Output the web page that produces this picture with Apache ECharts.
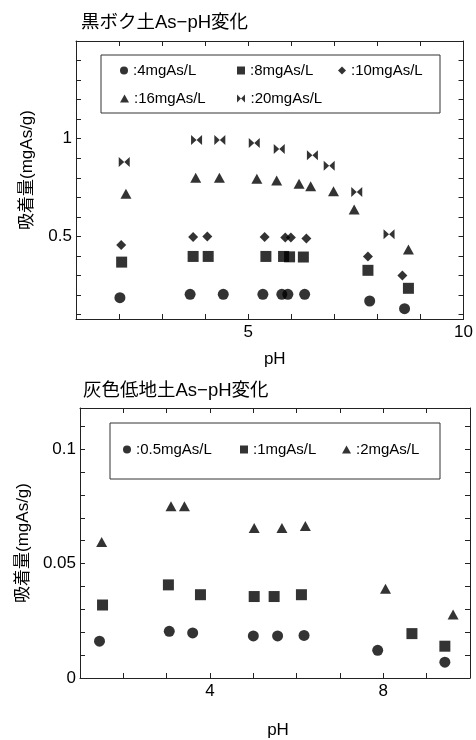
<!DOCTYPE html>
<html>
<head>
<meta charset="utf-8">
<script src="https://cdn.jsdelivr.net/npm/echarts@6/dist/echarts.min.js"></script>
<style>
  html, body { margin: 0; padding: 0; background: #fff; }
  #ct { width: 476px; height: 740px; }
</style>
</head>
<body>
<div id="ct"></div>
<script>
// 黒ボク土 (top chart)
const phA_4 = [2.02, 3.65, 4.42, 5.34, 5.78, 5.92, 6.31, 7.82, 8.63];
const valA_4 = [0.187, 0.204, 0.204, 0.204, 0.204, 0.204, 0.204, 0.170, 0.131];
const phA_8 = [2.06, 3.72, 4.07, 5.41, 5.82, 5.96, 6.28, 7.78, 8.72];
const valA_8 = [0.369, 0.398, 0.398, 0.398, 0.398, 0.396, 0.395, 0.327, 0.235];
const phA_10 = [2.05, 3.72, 4.05, 5.38, 5.86, 5.99, 6.35, 7.78, 8.58];
const valA_10 = [0.457, 0.498, 0.500, 0.497, 0.495, 0.495, 0.490, 0.398, 0.301];
const phA_16 = [2.16, 3.78, 4.33, 5.20, 5.66, 6.18, 6.45, 6.98, 7.46, 8.72];
const valA_16 = [0.719, 0.801, 0.801, 0.796, 0.786, 0.770, 0.757, 0.731, 0.638, 0.434];
const phA_20 = [2.12, 3.80, 4.34, 5.14, 5.72, 6.49, 6.88, 7.52, 8.27];
const valA_20 = [0.881, 0.993, 0.993, 0.978, 0.947, 0.915, 0.862, 0.728, 0.512];
const namesA = [':4mgAs/L', ':8mgAs/L', ':10mgAs/L', ':16mgAs/L', ':20mgAs/L'];

// 灰色低地土 (bottom chart)
const phB_05 = [1.45, 3.06, 3.60, 5.00, 5.56, 6.17, 7.87, 9.42];
const valB_05 = [0.0161, 0.0204, 0.0197, 0.0184, 0.0184, 0.0186, 0.0121, 0.0069];
const phB_1 = [1.52, 3.04, 3.78, 5.02, 5.48, 6.11, 8.66, 9.42];
const valB_1 = [0.0319, 0.0407, 0.0364, 0.0356, 0.0356, 0.0364, 0.0194, 0.0139];
const phB_2 = [1.50, 3.10, 3.41, 5.02, 5.66, 6.20, 8.05, 9.61];
const valB_2 = [0.0594, 0.0751, 0.0751, 0.0656, 0.0656, 0.0664, 0.0390, 0.0277];
const namesB = [':0.5mgAs/L', ':1mgAs/L', ':2mgAs/L'];

// ticks
const ticksA_y = [0.1, 0.2, 0.3, 0.4, 0.5, 0.6, 0.7, 0.8, 0.9, 1.0, 1.1, 1.2, 1.3, 1.4];
const labelsA_y = [0.5, 1];
const labelsA_x = [5, 10];
const labelsB_y = [0, 0.05, 0.1];
const labelsB_x = [4, 8];

const FONT = "'Liberation Sans','Noto Sans CJK JP',sans-serif";
const BOWTIE = 'path://M0 0L5 5L0 10ZM10 0L5 5L10 10Z';
const symA = ['circle', 'rect', 'diamond', 'triangle', BOWTIE];
const sizeA = [11, 11, [10, 10], [11, 10], [11, 10]];
const legIconA = [[8, 8], [8, 8], [8, 8], [9, 8], [9, 8]];
const symB = ['circle', 'rect', 'triangle'];
const sizeB = [11, 11, [11, 10]];

const zip = (xs, ys) => xs.map((x, i) => [x, ys[i]]);
const dataA = [zip(phA_4, valA_4), zip(phA_8, valA_8), zip(phA_10, valA_10),
               zip(phA_16, valA_16), zip(phA_20, valA_20)];
const dataB = [zip(phB_05, valB_05), zip(phB_1, valB_1), zip(phB_2, valB_2)];

const line = { show: true, onZero: false, lineStyle: { color: '#222', width: 1 } };
const tick = { show: true, inside: true, length: 5, lineStyle: { color: '#222' } };
const lbl = { color: '#000', fontSize: 17, fontFamily: FONT };
const nameStyle = { color: '#000', fontSize: 17, fontFamily: FONT };
const titleStyle = { color: '#000', fontSize: 18.5, fontWeight: 'normal', fontFamily: FONT };

function xAxes(gi, lblVals) {
  return [
    { type: 'value', gridIndex: gi, min: 1, max: 10, interval: 1, position: 'bottom',
      axisLine: line, axisTick: tick, splitLine: { show: false },
      axisLabel: Object.assign({ customValues: lblVals, margin: 5 }, lbl),
      name: 'pH', nameLocation: 'middle', nameGap: gi === 0 ? 32 : 44,
      nameTextStyle: Object.assign({ padding: [0, 0, 0, gi === 0 ? 10 : 6] }, nameStyle) },
    { type: 'value', gridIndex: gi, min: 1, max: 10, interval: 1, position: 'top',
      axisLine: line, axisTick: tick, axisLabel: { show: false }, splitLine: { show: false } }
  ];
}

const chart = echarts.init(document.getElementById('ct'));

const series = [];
dataA.forEach((d, i) => series.push({
  name: namesA[i], type: 'scatter', xAxisIndex: 0, yAxisIndex: 0,
  symbol: symA[i], symbolSize: sizeA[i], itemStyle: { color: '#000' }, data: d
}));
dataB.forEach((d, i) => series.push({
  name: namesB[i], type: 'scatter', xAxisIndex: 2, yAxisIndex: 2,
  symbol: symB[i], symbolSize: sizeB[i], itemStyle: { color: '#000' }, data: d
}));

// legend item placement
const legPosA = [[120, 63], [237, 63], [338, 63], [120, 91], [237, 91]];
const legPosB = [[123, 442], [240, 442], [342, 442]];
const legends = [];
namesA.forEach((n, i) => legends.push({
  data: [n], left: legPosA[i][0], top: legPosA[i][1], padding: 0,
  icon: symA[i], itemWidth: legIconA[i][0], itemHeight: legIconA[i][1],
  textStyle: { color: '#000', fontSize: 15, fontFamily: FONT }
}));
namesB.forEach((n, i) => legends.push({
  data: [n], left: legPosB[i][0], top: legPosB[i][1], padding: 0,
  icon: symB[i], itemWidth: i === 2 ? 9 : 8, itemHeight: 8,
  textStyle: { color: '#000', fontSize: 15, fontFamily: FONT }
}));

const option = {
  animation: false,
  backgroundColor: '#fff',
  title: [
    { text: '黒ボク土As−pH変化', left: 81, top: 14, padding: 0, textStyle: titleStyle },
    { text: '灰色低地土As−pH変化', left: 83, top: 382, padding: 0, textStyle: titleStyle }
  ],
  grid: [
    { left: 76, right: 11, top: 41, bottom: 421 },
    { left: 80, right: 6, top: 408, bottom: 54 }
  ],
  legend: legends,
  xAxis: xAxes(0, labelsA_x).concat(xAxes(1, labelsB_x)),
  yAxis: [
    { type: 'value', gridIndex: 0, min: 0.078, max: 1.5, position: 'left',
      axisLine: line, axisTick: Object.assign({ customValues: ticksA_y }, tick), splitLine: { show: false },
      axisLabel: Object.assign({ customValues: labelsA_y, margin: 4 }, lbl),
      name: '吸着量(mgAs/g)', nameLocation: 'middle', nameGap: 40,
      nameTextStyle: Object.assign({ padding: [0, 0, 0, 20] }, nameStyle) },
    { type: 'value', gridIndex: 0, min: 0.078, max: 1.5, position: 'right',
      axisLine: line, axisTick: Object.assign({ customValues: ticksA_y }, tick),
      axisLabel: { show: false }, splitLine: { show: false } },
    { type: 'value', gridIndex: 1, min: 0, max: 0.118, interval: 0.01, position: 'left',
      axisLine: line, axisTick: tick, splitLine: { show: false },
      axisLabel: Object.assign({ customValues: labelsB_y, margin: 4 }, lbl),
      name: '吸着量(mgAs/g)', nameLocation: 'middle', nameGap: 48, nameTextStyle: nameStyle },
    { type: 'value', gridIndex: 1, min: 0, max: 0.118, interval: 0.01, position: 'right',
      axisLine: line, axisTick: tick, axisLabel: { show: false }, splitLine: { show: false } }
  ],
  graphic: [
    { type: 'rect', shape: { x: 101, y: 55, width: 339, height: 58 },
      style: { fill: 'none', stroke: '#333', lineWidth: 1 }, z: 0 },
    { type: 'rect', shape: { x: 110, y: 423, width: 330, height: 56 },
      style: { fill: 'none', stroke: '#333', lineWidth: 1 }, z: 0 }
  ],
  series: series
};

chart.setOption(option);
</script>
</body>
</html>
